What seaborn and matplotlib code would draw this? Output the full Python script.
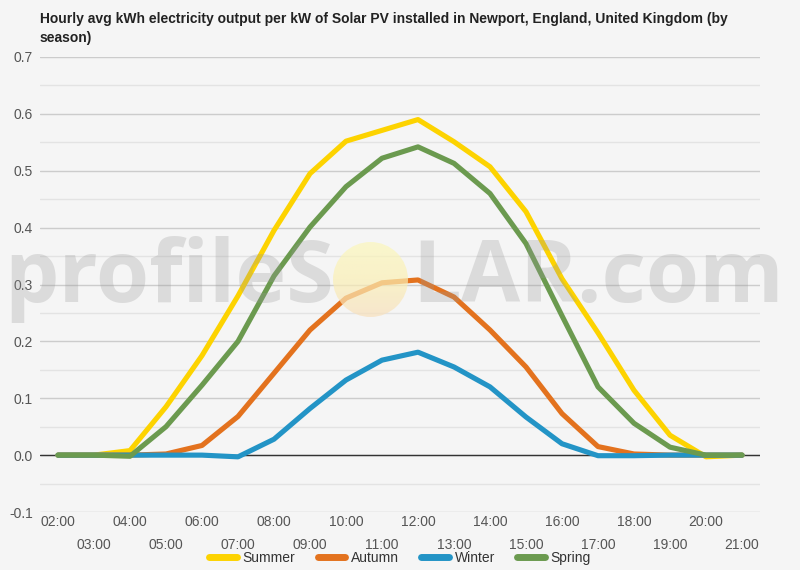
import matplotlib
matplotlib.use('Agg')
import matplotlib.pyplot as plt
from matplotlib.patches import Circle
from matplotlib.colors import LinearSegmentedColormap
from matplotlib.ticker import MultipleLocator
import seaborn as sns
import pandas as pd
import numpy as np

# hourly values (kWh per kW)
hours = ["02:00", "03:00", "04:00", "05:00", "06:00", "07:00", "08:00", "09:00",
         "10:00", "11:00", "12:00", "13:00", "14:00", "15:00", "16:00", "17:00",
         "18:00", "19:00", "20:00", "21:00"]
summer = [0, 0, 0.008, 0.085, 0.175, 0.28, 0.395, 0.495, 0.552, 0.571,
          0.59, 0.551, 0.507, 0.428, 0.31, 0.215, 0.114, 0.035, -0.003, 0]
autumn = [0, 0, 0, 0.002, 0.017, 0.068, 0.144, 0.22, 0.276, 0.303,
          0.308, 0.278, 0.22, 0.155, 0.073, 0.015, 0.002, 0, 0, 0]
winter = [0, 0, 0, 0, 0, -0.003, 0.028, 0.082, 0.132, 0.167,
          0.181, 0.155, 0.12, 0.067, 0.02, -0.001, -0.001, 0, 0, 0]
spring = [0, 0, -0.002, 0.05, 0.123, 0.2, 0.315, 0.401, 0.472, 0.522,
          0.542, 0.513, 0.46, 0.372, 0.245, 0.12, 0.056, 0.014, 0, 0]
seasons = ["Summer", "Autumn", "Winter", "Spring"]

bg_color = "#f5f5f5"
palette = {"Summer": "#fdd300", "Autumn": "#e3721e",
           "Winter": "#2394c6", "Spring": "#6b9a4f"}

rows = []
for name, vals in zip(seasons, [summer, autumn, winter, spring]):
    for i, v in enumerate(vals):
        rows.append({"pos": i, "value": v, "season": name})
df = pd.DataFrame(rows)

sns.set_theme(style="white", rc={
    "axes.facecolor": bg_color,
    "figure.facecolor": bg_color,
})
plt.rcParams['font.family'] = ['Liberation Sans', 'DejaVu Sans']

fig = plt.figure(figsize=(8, 5.7), dpi=100)
ax = fig.add_axes([0.05, 58 / 570, 0.9, 455 / 570])

ax = sns.lineplot(data=df, x="pos", y="value", hue="season", hue_order=seasons,
                  palette=palette, linewidth=3.7, ax=ax, zorder=3)
for line in ax.get_lines():
    line.set_solid_joinstyle("round")
    line.set_solid_capstyle("round")

ax.set_xlim(-0.5, len(hours) - 0.5)
ax.set_ylim(-0.1, 0.7)
ax.yaxis.set_major_locator(MultipleLocator(0.1))
ax.yaxis.set_minor_locator(MultipleLocator(0.05))
ax.grid(which="major", axis="y", color="#cccccc", linewidth=1)
ax.grid(which="minor", axis="y", color="#e3e3e3", linewidth=1)
ax.grid(which="major", axis="x", visible=False)
ax.axhline(0, color="#333333", linewidth=1, zorder=2)
ax.set_axisbelow(True)
for s in ax.spines.values():
    s.set_visible(False)

ax.set_xticks(range(len(hours)))
ax.set_xticklabels(hours)
ax.set_yticks([-0.1, 0, 0.1, 0.2, 0.3, 0.4, 0.5, 0.6, 0.7])
ax.set_yticklabels(["-0.1", "0.0", "0.1", "0.2", "0.3", "0.4", "0.5", "0.6", "0.7"])
ax.tick_params(axis="both", which="both", length=0, labelsize=10, colors="#555555")
ax.tick_params(axis="y", pad=5)
for i, t in enumerate(ax.xaxis.get_major_ticks()):
    t.set_pad(19 if i % 2 else 2)
ax.set_xlabel("")
ax.set_ylabel("")

sns.move_legend(ax, "center", bbox_to_anchor=(0.5, -0.101), ncol=4, frameon=False,
                title=None, fontsize=10, handlelength=2.0, handletextpad=0.4,
                columnspacing=1.6)
leg = ax.get_legend()
for line in leg.get_lines():
    line.set_linewidth(5)
for txt in leg.get_texts():
    txt.set_color("#333333")

fig.text(0.05, 1 - 12 / 570,
         "Hourly avg kWh electricity output per kW of Solar PV installed in Newport, England, United Kingdom (by\nseason)",
         ha="left", va="top", fontsize=10, fontweight="bold", color="#222222",
         linespacing=1.45)

# watermark
wm = dict(fontsize=62, fontweight="bold", color="#999999", alpha=0.28, zorder=10,
          family=["Open Sans", "DejaVu Sans"], va="baseline")
fig.text(334 / 800, 1 - 302 / 570, "profileS", ha="right", **wm)
fig.text(412 / 800, 1 - 302 / 570, "LAR.com", ha="left", **wm)

sun_ax = fig.add_axes([333 / 800, (570 - 317) / 570, 75 / 800, 75 / 570])
sun_ax.set_zorder(5)
sun_ax.axis("off")
sun_cmap = LinearSegmentedColormap.from_list("sun", ["#fbf7bc", "#fbf0b4", "#f8e0bc"])
grad = np.linspace(0, 1, 64)[:, None]
im = sun_ax.imshow(grad, cmap=sun_cmap, extent=[0, 1, 0, 1], aspect="auto",
                   origin="upper", alpha=0.7)
im.set_clip_path(Circle((0.5, 0.5), 0.5, transform=sun_ax.transData))
sun_ax.patch.set_alpha(0)

plt.savefig("out.png", dpi=100, facecolor=bg_color)
plt.close()
